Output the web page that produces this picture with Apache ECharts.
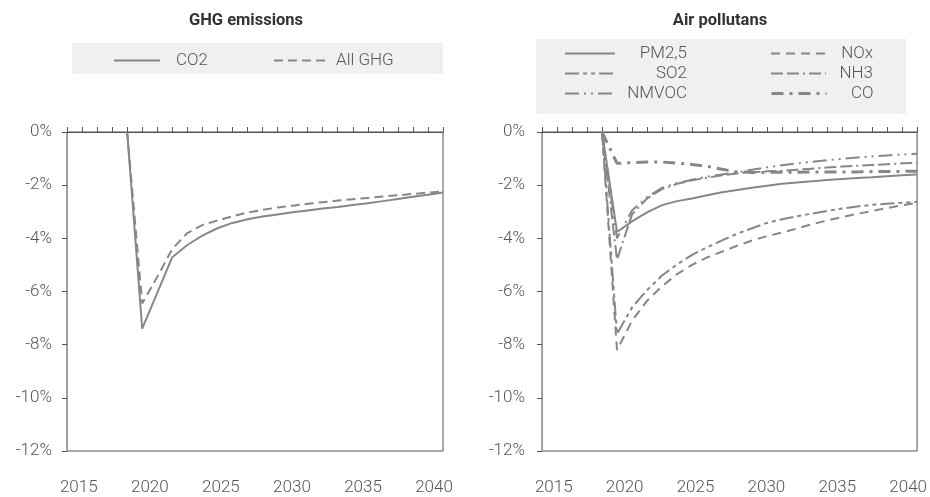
<!DOCTYPE html>
<html>
<head>
<meta charset="utf-8">
<script src="https://cdn.jsdelivr.net/npm/echarts@6/dist/echarts.min.js"></script>
<style>
  html, body { margin: 0; padding: 0; background: #ffffff; }
  #chart { width: 930px; height: 497px; }
</style>
</head>
<body>
<div id="chart"></div>
<script>
// Years covered by the simulated series (deviation from baseline, %)
const years = [2019, 2020, 2021, 2022, 2023, 2024, 2025, 2026, 2027, 2028, 2029,
               2030, 2031, 2032, 2033, 2034, 2035, 2036, 2037, 2038, 2039, 2040];

// GHG emissions
const co2    = [0, -7.4, -6.05, -4.71, -4.25, -3.9, -3.62, -3.42, -3.28, -3.18, -3.1,
                -3.02, -2.95, -2.88, -2.82, -2.75, -2.68, -2.6, -2.52, -2.44, -2.36, -2.28];
const allGhg = [0, -6.45, -5.45, -4.4, -3.8, -3.5, -3.33, -3.17, -3.03, -2.93, -2.84,
                -2.77, -2.7, -2.64, -2.58, -2.53, -2.48, -2.43, -2.38, -2.33, -2.28, -2.23];

// Air pollutants
const pm25  = [0, -3.76, -3.36, -3.02, -2.75, -2.6, -2.5, -2.38, -2.27, -2.18, -2.1,
               -2.02, -1.95, -1.9, -1.85, -1.81, -1.77, -1.73, -1.7, -1.66, -1.63, -1.6];
const so2   = [0, -7.6, -6.6, -5.95, -5.4, -4.98, -4.62, -4.34, -4.08, -3.83, -3.62,
               -3.42, -3.28, -3.17, -3.07, -2.97, -2.88, -2.8, -2.74, -2.7, -2.66, -2.63];
const nmvoc = [0, -4.0, -2.95, -2.45, -2.1, -1.92, -1.8, -1.68, -1.6, -1.52, -1.42,
               -1.33, -1.25, -1.18, -1.12, -1.06, -1.01, -0.96, -0.92, -0.88, -0.85, -0.82];
const nox   = [0, -8.2, -7.1, -6.35, -5.8, -5.35, -5.0, -4.72, -4.5, -4.28, -4.08,
               -3.92, -3.78, -3.63, -3.47, -3.33, -3.2, -3.08, -2.97, -2.86, -2.76, -2.66];
const nh3   = [0, -4.8, -3.1, -2.5, -2.15, -1.95, -1.82, -1.72, -1.63, -1.56, -1.51,
               -1.48, -1.46, -1.42, -1.38, -1.34, -1.3, -1.27, -1.24, -1.21, -1.18, -1.16];
const co    = [0, -1.18, -1.15, -1.13, -1.13, -1.17, -1.22, -1.29, -1.4, -1.5, -1.52,
               -1.52, -1.51, -1.51, -1.5, -1.5, -1.5, -1.5, -1.49, -1.49, -1.48, -1.48];

// Axis labels
const labelYears = [2015, 2020, 2025, 2030, 2035, 2040];

const GRAY = '#878787';
const TEXT = '#555555';
const FONT = 'Roboto, "DejaVu Sans", sans-serif';
const FONT_SIZE = 17;

// line dash styles
const DASH = {
  solid: 'solid',
  ghg: [9, 5],
  so2: [14, 4, 4, 4, 4, 4],
  nmvoc: [14, 5, 2, 5, 2, 5],
  nox: [9, 6],
  nh3: [12, 4, 12, 4, 2, 4],
  co: [12, 6, 3, 6]
};

const measureCtx = document.createElement('canvas').getContext('2d');
function textWidth(s) {
  measureCtx.font = '300 ' + FONT_SIZE + 'px ' + FONT;
  return measureCtx.measureText(s).width;
}

function lineSeries(name, values, axisIdx, dash, width) {
  return {
    name: name,
    type: 'line',
    xAxisIndex: axisIdx * 2,
    yAxisIndex: axisIdx,
    data: years.map((y, i) => [y, values[i]]),
    symbol: 'none',
    smooth: false,
    silent: true,
    lineStyle: { color: GRAY, width: width, type: dash },
    itemStyle: { color: GRAY },
    z: 3
  };
}

// one legend entry placed at a given spot; text either left-aligned at textLeft
// or right-aligned so it ends at textRight
function legendEntry(name, iconLeft, iconWidth, centerY, dash, width, textLeft, textRight) {
  const textStart = iconLeft + iconWidth + 5;
  let pad;
  if (textRight != null) {
    pad = Math.max(0, textRight - textWidth(name) - textStart);
  } else {
    pad = Math.max(0, textLeft - textStart);
  }
  return {
    data: [name],
    left: iconLeft,
    top: centerY - 7,
    padding: 0,
    itemWidth: iconWidth,
    itemHeight: 14,
    itemGap: 0,
    selectedMode: false,
    itemStyle: { opacity: 0, borderWidth: 0 },
    lineStyle: { color: GRAY, width: width, type: dash },
    textStyle: {
      color: TEXT, fontSize: FONT_SIZE, fontFamily: FONT, fontWeight: 300,
      padding: [0, 0, 0, pad]
    }
  };
}

function topAxis(gridIndex) {
  return {
    gridIndex: gridIndex, type: 'value', position: 'top',
    min: 2015, max: 2040, interval: 1,
    axisLine: { show: true, onZero: false, lineStyle: { color: '#555', width: 1 } },
    axisTick: { show: true, inside: false, length: 5, lineStyle: { color: '#555' } },
    axisLabel: { show: false },
    splitLine: { show: false }
  };
}
function labelAxis(gridIndex) {
  return {
    gridIndex: gridIndex, type: 'value', position: 'bottom',
    min: 2014.17, max: 2040.63,
    axisLine: { show: false },
    axisTick: { show: false },
    splitLine: { show: false },
    axisLabel: {
      customValues: labelYears,
      formatter: v => String(Math.round(v)),
      margin: 28, color: TEXT, fontSize: FONT_SIZE, fontFamily: FONT, fontWeight: 300
    }
  };
}
function valueAxis(gridIndex, margin) {
  return {
    gridIndex: gridIndex, type: 'value',
    min: -12, max: 0, interval: 2,
    axisLine: { show: true, onZero: false, lineStyle: { color: '#999' } },
    axisTick: { show: true, inside: false, length: 5, lineStyle: { color: '#555' } },
    axisLabel: {
      formatter: '{value}%', margin: margin,
      color: TEXT, fontSize: FONT_SIZE, fontFamily: FONT, fontWeight: 300
    },
    splitLine: { show: false }
  };
}

const chart = echarts.init(document.getElementById('chart'), null, { renderer: 'canvas' });

const option = {
  animation: false,
  backgroundColor: '#ffffff',
  graphic: [
    { type: 'rect', z: 0, shape: { x: 72, y: 43, width: 371, height: 31 }, style: { fill: '#eff0f2' } },
    { type: 'rect', z: 0, shape: { x: 536, y: 39, width: 370, height: 75 }, style: { fill: '#eff0f2' } },
    { type: 'text', z: 5, x: 246, y: 21,
      style: { text: 'GHG emissions', fill: '#333', font: 'bold 16.5px ' + FONT, textAlign: 'center', textVerticalAlign: 'middle' } },
    { type: 'text', z: 5, x: 720, y: 21,
      style: { text: 'Air pollutans', fill: '#333', font: 'bold 16.5px ' + FONT, textAlign: 'center', textVerticalAlign: 'middle' } }
  ],
  legend: [
    legendEntry('CO2', 113, 46, 59, DASH.solid, 2, 175, null),
    legendEntry('All GHG', 273, 54, 59, DASH.ghg, 2, 335, null),
    legendEntry('PM2,5', 564, 50, 52, DASH.solid, 2, null, 686),
    legendEntry('SO2', 564, 50, 72, DASH.so2, 2, null, 686),
    legendEntry('NMVOC', 564, 50, 92, DASH.nmvoc, 2, null, 686),
    legendEntry('NOx', 770, 55, 52, DASH.nox, 2, null, 872),
    legendEntry('NH3', 770, 55, 72, DASH.nh3, 2, null, 872),
    legendEntry('CO', 770, 55, 92, DASH.co, 3, null, 872)
  ],
  grid: [
    { left: 67, top: 132, width: 376, height: 319, show: true, borderColor: '#555', borderWidth: 1, backgroundColor: 'transparent' },
    { left: 542, top: 132, width: 376, height: 319, show: true, borderColor: '#555', borderWidth: 1, backgroundColor: 'transparent' }
  ],
  xAxis: [topAxis(0), labelAxis(0), topAxis(1), labelAxis(1)],
  yAxis: [valueAxis(0, 15), valueAxis(1, 17)],
  series: [
    lineSeries('CO2', co2, 0, DASH.solid, 2),
    lineSeries('All GHG', allGhg, 0, DASH.ghg, 2),
    lineSeries('PM2,5', pm25, 1, DASH.solid, 2),
    lineSeries('SO2', so2, 1, DASH.so2, 2),
    lineSeries('NMVOC', nmvoc, 1, DASH.nmvoc, 2),
    lineSeries('NOx', nox, 1, DASH.nox, 2),
    lineSeries('NH3', nh3, 1, DASH.nh3, 2),
    lineSeries('CO', co, 1, DASH.co, 3)
  ]
};

chart.setOption(option);
</script>
</body>
</html>
